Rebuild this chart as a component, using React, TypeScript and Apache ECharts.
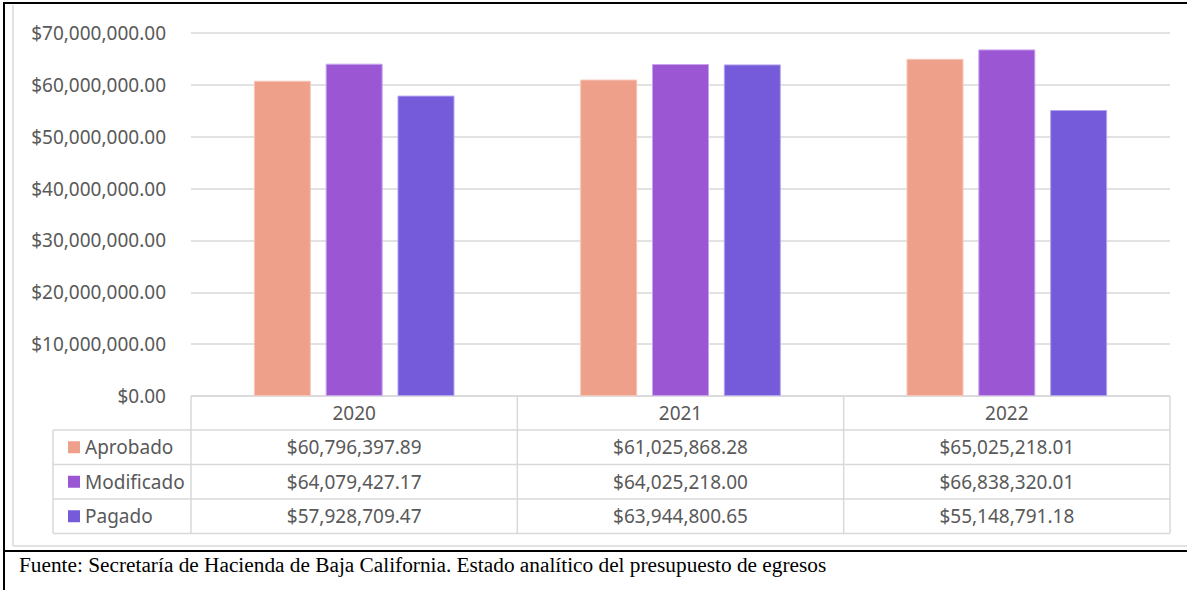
import React, { useEffect, useRef } from "react";
import * as echarts from "echarts";

const categories = ["2020", "2021", "2022"];
const seriesNames = ["Aprobado", "Modificado", "Pagado"];
const aprobado = [60796397.89, 61025868.28, 65025218.01];
const modificado = [64079427.17, 64025218.0, 66838320.01];
const pagado = [57928709.47, 63944800.65, 55148791.18];
const seriesValues = [aprobado, modificado, pagado];
const seriesColors = ["#EFA08A", "#9B57D3", "#755BDA"];
const seriesBorders = ["#F6C7B9", "#C9A3EC", "#B3A5EE"];
const footnote =
  "Fuente: Secretaría de Hacienda de Baja California. Estado analítico del presupuesto de egresos";

const W = 1187;
const H = 590;
const GRID_LEFT = 191;
const GRID_RIGHT = 1170;
const GRID_TOP = 33;
const AXIS_Y = 396;
const TABLE_LEFT = 53;
const ROW_LINES = [396, 430, 464.5, 499, 533.5];
const GRAY = "#D9D9D9";
const TEXT = "#595959";
const FONT = "'Noto Sans', sans-serif";
const FS = 19;

const money = (v: number) =>
  "$" + v.toLocaleString("en-US", { minimumFractionDigits: 2, maximumFractionDigits: 2 });

export default function App() {
  const ref = useRef<HTMLDivElement>(null);
  useEffect(() => {
    document.body.style.margin = "0";
    const chart = echarts.init(ref.current!, null, { renderer: "svg", width: W, height: H });
    const colW = (GRID_RIGHT - GRID_LEFT) / categories.length;
    const graphics: any[] = [];
    const line = (x1: number, y1: number, x2: number, y2: number, stroke: string, lw: number) =>
      graphics.push({ type: "line", shape: { x1, y1, x2, y2 }, style: { stroke, lineWidth: lw }, silent: true });

    // outer frames
    line(4, 3, 4, H, "#000", 2);
    line(3, 3, W, 3, "#000", 2);
    line(3, 551, W, 551, "#000", 2);
    line(13, 5, 13, 546, GRAY, 1.5);
    line(13, 546, W, 546, GRAY, 1.5);

    // table lines
    line(GRID_LEFT, ROW_LINES[0], GRID_RIGHT, ROW_LINES[0], GRAY, 1.5);
    for (let i = 1; i < ROW_LINES.length; i++) {
      line(TABLE_LEFT, ROW_LINES[i], GRID_RIGHT, ROW_LINES[i], GRAY, 1.5);
    }
    line(TABLE_LEFT, ROW_LINES[1], TABLE_LEFT, ROW_LINES[4], GRAY, 1.5);
    for (let c = 0; c <= categories.length; c++) {
      const x = GRID_LEFT + c * colW;
      line(x, ROW_LINES[0], x, ROW_LINES[4], GRAY, 1.5);
    }
    // header texts
    categories.forEach((cat, c) => {
      graphics.push({
        type: "text",
        x: GRID_LEFT + (c + 0.5) * colW,
        y: (ROW_LINES[0] + ROW_LINES[1]) / 2,
        style: { text: cat, fill: TEXT, font: `${FS}px ${FONT}`, align: "center", verticalAlign: "middle" },
        silent: true,
      });
    });
    seriesNames.forEach((name, s) => {
      const cy = (ROW_LINES[s + 1] + ROW_LINES[s + 2]) / 2;
      graphics.push({
        type: "rect",
        shape: { x: 68, y: cy - 6, width: 12, height: 12 },
        style: { fill: seriesColors[s] },
        silent: true,
      });
      graphics.push({
        type: "text",
        x: 85,
        y: cy,
        style: { text: name, fill: TEXT, font: `${FS}px ${FONT}`, align: "left", verticalAlign: "middle" },
        silent: true,
      });
      seriesValues[s].forEach((v, c) => {
        graphics.push({
          type: "text",
          x: GRID_LEFT + (c + 0.5) * colW,
          y: cy,
          style: { text: money(v), fill: TEXT, font: `${FS}px ${FONT}`, align: "center", verticalAlign: "middle" },
          silent: true,
        });
      });
    });
    graphics.push({
      type: "text",
      x: 19,
      y: 565,
      style: {
        text: footnote,
        fill: "#000",
        font: "21.3px 'Liberation Serif', 'Times New Roman', serif",
        align: "left",
        verticalAlign: "middle",
      },
      silent: true,
    });

    chart.setOption({
      animation: false,
      backgroundColor: "#fff",
      grid: { left: GRID_LEFT, right: W - GRID_RIGHT, top: GRID_TOP, bottom: H - AXIS_Y },
      xAxis: {
        type: "category",
        data: categories,
        axisLine: { show: false },
        axisTick: { show: false },
        axisLabel: { show: false },
      },
      yAxis: {
        type: "value",
        min: 0,
        max: 70000000,
        interval: 10000000,
        axisLine: { show: false },
        axisTick: { show: false },
        axisLabel: {
          formatter: (v: number) => money(v),
          color: TEXT,
          fontSize: FS,
          fontFamily: FONT,
          margin: 25,
        },
        splitLine: { lineStyle: { color: GRAY, width: 1.5 } },
      },
      series: seriesNames.map((name, s) => ({
        name,
        type: "bar",
        data: seriesValues[s],
        barWidth: 57,
        barGap: "26%",
        itemStyle: { color: seriesColors[s], borderColor: seriesBorders[s], borderWidth: 1 },
      })),
      graphic: graphics,
    });
    return () => chart.dispose();
  }, []);
  return <div ref={ref} style={{ position: "absolute", left: 0, top: 0, width: W, height: H }} />;
}
